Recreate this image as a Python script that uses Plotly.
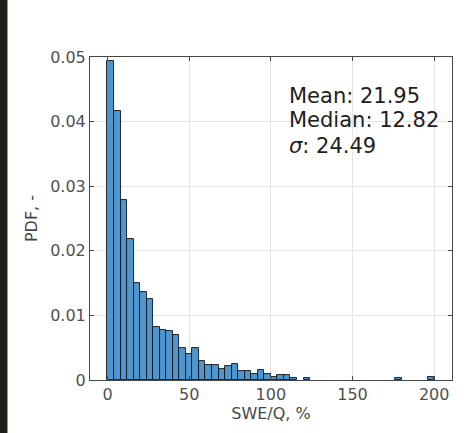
import numpy as np
import plotly.graph_objects as go

# Histogram data (PDF), bin width 4, bins starting at 0
bin_width = 4
bin_left_edges = [0, 4, 8, 12, 16, 20, 24, 28, 32, 36, 40, 44, 48, 52, 56, 60, 64, 68, 72, 76,
                  80, 84, 88, 92, 96, 100, 104, 108, 112, 116, 120, 124, 128, 132, 136, 140,
                  144, 148, 152, 156, 160, 164, 168, 172, 176, 180, 184, 188, 192, 196]
pdf_values = [0.0494, 0.0417, 0.0278, 0.0219, 0.0150, 0.0137, 0.0126, 0.0082, 0.0078, 0.0076,
              0.0069, 0.0049, 0.0041, 0.0049, 0.0030, 0.0024, 0.0024, 0.0017, 0.0021, 0.0025,
              0.0014, 0.0014, 0.0010, 0.0016, 0.0010, 0.0005, 0.0008, 0.0007, 0.0003, 0.0,
              0.0003, 0.0, 0.0, 0.0, 0.0, 0.0, 0.0, 0.0, 0.0, 0.0,
              0.0, 0.0, 0.0, 0.0, 0.0003, 0.0, 0.0, 0.0, 0.0, 0.0004]

x_tick_vals = [0, 50, 100, 150, 200]
y_tick_vals = [0, 0.01, 0.02, 0.03, 0.04, 0.05]
y_tick_text = ["0", "0.01", "0.02", "0.03", "0.04", "0.05"]

stats_lines = ["Mean: 21.95", "Median: 12.82", "<i>σ</i>: 24.49"]

centers = [e + bin_width / 2 for e in bin_left_edges]
yvals = [v if v > 0 else None for v in pdf_values]

FONT = "DejaVu Sans"
AXC = "rgb(70,70,70)"

fig = go.Figure()
fig.add_trace(go.Bar(
    x=centers, y=yvals, width=bin_width,
    marker=dict(color="rgb(78,150,205)", line=dict(color="rgb(20,20,20)", width=0.9)),
    showlegend=False,
))

fig.update_layout(
    width=467, height=433,
    margin=dict(l=90, r=15, t=57, b=53),
    paper_bgcolor="white", plot_bgcolor="white",
    font=dict(family=FONT, size=16, color="rgb(60,60,60)"),
    bargap=0,
)
fig.update_xaxes(
    range=[-10.7, 210.9], tickvals=x_tick_vals,
    ticks="inside", ticklen=4, tickcolor=AXC,
    showline=True, linecolor=AXC, linewidth=1, mirror="ticks",
    showgrid=True, gridcolor="rgb(228,228,228)", gridwidth=1,
    zeroline=False,
    tickfont=dict(size=16, color="rgb(80,80,80)"),
    title=dict(text="SWE/Q, %", font=dict(size=16, color="rgb(70,70,70)"), standoff=2),
)
fig.update_yaxes(
    range=[0, 0.05], tickvals=y_tick_vals, ticktext=y_tick_text,
    ticks="inside", ticklen=4, tickcolor=AXC,
    showline=True, linecolor=AXC, linewidth=1, mirror="ticks",
    showgrid=True, gridcolor="rgb(228,228,228)", gridwidth=1,
    zeroline=False,
    tickfont=dict(size=16, color="rgb(80,80,80)"),
    title=dict(text="PDF, -", font=dict(size=16, color="rgb(70,70,70)"), standoff=8),
)

line_y = [0.04396, 0.0402, 0.0363]
for txt, yy in zip(stats_lines, line_y):
    fig.add_annotation(x=110, y=yy, xref="x", yref="y", text=txt, showarrow=False,
                       xanchor="left", yanchor="middle",
                       font=dict(family=FONT, size=21, color="rgb(30,30,30)"))

# dark strip at left edge (fragment of neighbouring image)
fig.add_shape(type="rect", xref="paper", yref="paper", x0=-0.2486, x1=-0.228, y0=-0.164, y1=1.18,
              fillcolor="rgb(28,32,22)", line=dict(width=0), layer="above")

fig.write_html("out.html", config={"displayModeBar": False},
               post_script="document.body.style.margin='0px';")
